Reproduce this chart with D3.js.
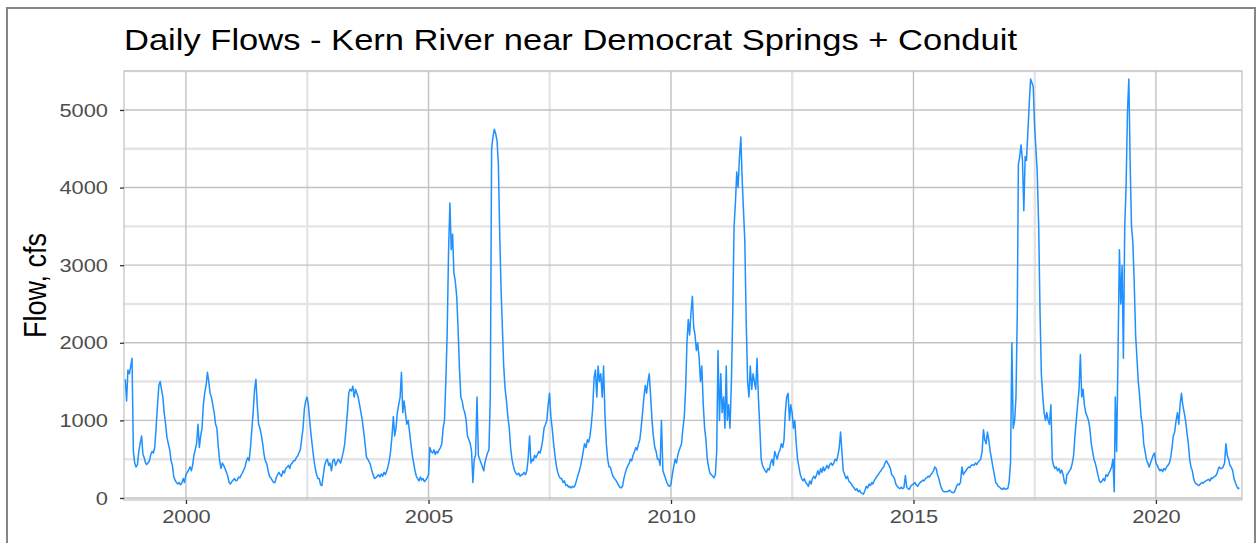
<!DOCTYPE html>
<html>
<head>
<meta charset="utf-8">
<script src="https://cdn.jsdelivr.net/npm/d3@7"></script>
<style>
  html, body { margin: 0; padding: 0; background: #ffffff; }
  svg { display: block; }
  text { font-family: "Liberation Sans", Arial, sans-serif; }
</style>
</head>
<body>
<svg id="chart" width="1257" height="543"></svg>
<script>
// Dekad (1st, 11th, 21st of each month) flows in cfs, one array per water year (Oct 1 - Sep 30)
const wy1999 = [1530,1250,1650,1600,1700,1800,600,450,400,430,600,700,800,560,520,460,430,450,480,560,600,580,650,900,1200,1450,1500,1400,1300,1100,950,780,700,620,480,420];
const wy2000 = [280,230,200,180,200,170,190,250,200,300,330,360,400,350,430,550,620,700,950,650,800,900,1200,1350,1450,1620,1500,1350,1300,1200,1100,950,900,650,480,380];
const wy2001 = [450,420,380,330,280,200,180,210,230,250,220,230,270,260,300,320,360,400,480,520,480,650,880,1100,1400,1530,1200,950,900,820,700,560,480,440,350,280];
const wy2002 = [260,230,200,200,260,300,330,300,280,350,320,380,400,420,380,430,450,480,480,520,540,580,620,750,900,1150,1250,1300,1200,1000,800,650,500,380,300,250];
const wy2003 = [250,170,160,300,420,480,500,420,450,350,480,500,420,460,500,480,450,520,600,700,900,1100,1350,1400,1380,1440,1300,1400,1350,1300,1200,1100,1000,850,700,530];
const wy2004 = [500,470,430,350,300,250,260,280,300,270,310,280,330,300,350,400,480,600,800,1050,800,900,1100,1200,1300,1620,1100,1250,1100,950,1000,850,700,550,450,350];
const wy2005 = [280,250,220,270,230,250,210,230,260,300,650,600,580,620,560,600,580,620,650,700,900,1000,1500,2100,3200,3800,3200,3400,2900,2800,2600,2200,1700,1300,1250,1150];
const wy2006 = [1100,1000,800,750,700,600,200,500,550,1300,550,500,450,400,350,450,520,580,620,1300,4500,4650,4750,4700,4600,4300,3400,2700,2200,1700,1400,1250,1050,900,650,500];
const wy2007 = [420,350,320,300,320,280,300,300,330,300,350,500,800,450,500,480,550,520,560,600,580,650,750,900,950,1000,1200,1350,1050,900,700,550,420,330,280,250];
const wy2008 = [250,200,220,160,170,140,150,130,150,140,170,230,300,350,420,500,600,700,650,750,720,800,950,1150,1550,1650,1300,1700,1500,1600,1300,1700,1100,700,500,400];
const wy2009 = [400,330,280,250,230,200,170,140,130,150,250,320,380,420,450,500,480,550,600,650,620,700,750,900,1100,1300,1450,1350,1500,1600,1300,1000,800,650,600,500];
const wy2010 = [500,420,1000,350,300,250,200,160,150,180,300,400,500,450,550,600,650,700,900,1050,1400,2000,2300,2100,2400,2600,2200,2100,1900,2000,1800,1500,1700,1200,900,750];
const wy2011 = [500,400,320,300,280,260,300,600,1900,1000,1600,1100,1300,900,1700,1000,1200,900,1500,2400,3500,3800,4200,4000,4400,4650,4100,3700,3300,2300,1500,1300,1700,1400,1600,1500];
const wy2012 = [1400,1800,1300,900,500,420,380,350,330,380,360,450,500,420,600,550,500,580,620,700,650,750,1100,1300,1350,1000,1200,1100,900,1000,700,500,400,300,250,220];
const wy2013 = [250,200,180,150,220,180,250,280,250,300,350,300,380,330,400,350,380,420,380,430,450,420,450,500,480,550,650,850,600,350,300,250,280,220,200,180];
const wy2014 = [150,130,100,120,80,100,70,60,50,100,150,130,180,160,200,180,220,250,280,300,330,350,380,400,450,480,450,420,380,300,280,250,180,150,130,120];
const wy2015 = [140,120,130,290,140,120,110,150,170,180,200,170,150,180,200,210,230,220,250,260,280,270,300,320,350,400,380,300,250,180,120,90,80,80,80,90];
const wy2016 = [100,80,70,70,100,150,180,170,200,400,300,330,350,380,400,390,420,430,420,450,430,460,480,500,600,880,750,700,850,750,600,500,400,300,200,180];
const wy2017 = [150,140,120,110,130,110,120,120,200,450,2000,900,1000,1300,2400,4300,4400,4550,4350,3700,4400,4350,4700,5050,5400,5350,5300,4800,4500,4200,3500,2400,1600,1300,1100,1000];
const wy2018 = [1100,1000,950,1200,500,420,380,400,350,380,320,360,300,200,180,300,320,350,380,450,550,800,1000,1200,1400,1850,1300,1400,1200,1100,1050,1000,900,700,600,500];
const wy2019 = [450,380,300,220,200,220,250,220,300,280,320,350,400,500,80,1300,600,1800,3200,2500,3000,1800,3500,4000,5000,5400,4300,3500,3300,2800,2100,1800,1500,1300,1050,950];
const wy2020 = [700,600,500,450,400,450,500,550,580,450,420,380,350,370,340,380,360,400,420,450,520,650,800,850,1000,1100,950,1200,1350,1200,1100,1000,850,700,500,400];
const wy2021 = [350,250,200,180,170,160,180,200,190,210,220,230,240,220,260,250,270,280,300,350,400,380,380,400,450,700,550,500,420,400,350,250,200,150,120,130];

const waterYears = [1999,2000,2001,2002,2003,2004,2005,2006,2007,2008,2009,2010,2011,2012,2013,2014,2015,2016,2017,2018,2019,2020,2021];
const yearlyFlows = [wy1999,wy2000,wy2001,wy2002,wy2003,wy2004,wy2005,wy2006,wy2007,wy2008,wy2009,wy2010,wy2011,wy2012,wy2013,wy2014,wy2015,wy2016,wy2017,wy2018,wy2019,wy2020,wy2021];

// Axis breaks
const yBreaks = [0, 1000, 2000, 3000, 4000, 5000];
const yMinorBreaks = [500, 1500, 2500, 3500, 4500, 5500];
const xBreakYears = [2000, 2005, 2010, 2015, 2020];
const xMinorBreakYears = [2002.5, 2007.5, 2012.5, 2017.5];

const titleText = "Daily Flows - Kern River near Democrat Springs + Conduit";
const yAxisTitle = "Flow, cfs";

// Build dated records: dekads start on the 1st, 11th and 21st of each month from October
const records = [];
waterYears.forEach((wy, k) => {
  yearlyFlows[k].forEach((v, i) => {
    const monthOffset = Math.floor(i / 3);
    const day = [1, 11, 21][i % 3];
    const date = new Date(wy - 1, 9 + monthOffset, day);
    records.push({ date, flow: v });
  });
});

const panel = { left: 124, right: 1242, top: 71, bottom: 500 };
const textStretch = 1.15;   // text is drawn slightly wide

const svg = d3.select("#chart");

// Outer frame
svg.append("rect")
  .attr("x", 7).attr("y", 8)
  .attr("width", 1248).attr("height", 545)
  .attr("fill", "#ffffff")
  .attr("stroke", "#858585")
  .attr("stroke-width", 2);

const decYear = v => {
  const yr = Math.floor(v);
  const start = new Date(yr, 0, 1), end = new Date(yr + 1, 0, 1);
  return new Date(+start + (v - yr) * (end - start));
};

const x = d3.scaleTime()
  .domain([decYear(1998.722), decYear(2021.773)])
  .range([panel.left, panel.right]);

const y = d3.scaleLinear()
  .domain([-26, 5502])
  .range([panel.bottom, panel.top]);

const g = svg.append("g");

// Minor grid (lighter, wider)
g.selectAll("line.ymin").data(yMinorBreaks.filter(v => v <= y.domain()[1])).join("line")
  .attr("x1", panel.left).attr("x2", panel.right)
  .attr("y1", d => y(d)).attr("y2", d => y(d))
  .attr("stroke", "#e5e5e5").attr("stroke-width", 2.4);
g.selectAll("line.xmin").data(xMinorBreakYears).join("line")
  .attr("y1", panel.top).attr("y2", panel.bottom)
  .attr("x1", d => x(decYear(d))).attr("x2", d => x(decYear(d)))
  .attr("stroke", "#e5e5e5").attr("stroke-width", 2.4);

// Major grid
g.selectAll("line.ymaj").data(yBreaks).join("line")
  .attr("x1", panel.left).attr("x2", panel.right)
  .attr("y1", d => y(d)).attr("y2", d => y(d))
  .attr("stroke", "#c2c2c2").attr("stroke-width", 1.4);
g.selectAll("line.xmaj").data(xBreakYears).join("line")
  .attr("y1", panel.top).attr("y2", panel.bottom)
  .attr("x1", d => x(new Date(d, 0, 1))).attr("x2", d => x(new Date(d, 0, 1)))
  .attr("stroke", "#c2c2c2").attr("stroke-width", 1.4);

// Flow line
const line = d3.line()
  .x(d => x(d.date))
  .y(d => y(d.flow));

g.append("path")
  .datum(records)
  .attr("fill", "none")
  .attr("stroke", "#1E90FF")
  .attr("stroke-width", 1.5)
  .attr("stroke-linejoin", "round")
  .attr("d", line);

// Panel border
g.append("rect")
  .attr("x", panel.left).attr("y", panel.top)
  .attr("width", panel.right - panel.left).attr("height", panel.bottom - panel.top)
  .attr("fill", "none").attr("stroke", "#c2c2c2").attr("stroke-width", 1.2);

// Axes
const yAxis = d3.axisLeft(y).tickValues(yBreaks).tickSize(4).tickPadding(7).tickFormat(d3.format("d"));
const yAxisG = svg.append("g").attr("transform", `translate(${panel.left},0)`).call(yAxis);
const xAxis = d3.axisBottom(x).tickValues(xBreakYears.map(v => new Date(v, 0, 1))).tickSize(4).tickPadding(6).tickFormat(d3.timeFormat("%Y"));
const xAxisG = svg.append("g").attr("transform", `translate(0,${panel.bottom})`).call(xAxis);

[yAxisG, xAxisG].forEach(a => {
  a.select(".domain").remove();
  a.selectAll(".tick line").attr("stroke", "#333333").attr("stroke-width", 1.3);
  a.selectAll(".tick text")
    .attr("fill", "#4d4d4d")
    .style("font-family", '"Liberation Sans", Arial, sans-serif')
    .style("font-size", "19px");
});
yAxisG.selectAll(".tick text")
  .attr("x", -16 / textStretch)
  .attr("transform", `scale(${textStretch},1)`);
xAxisG.selectAll(".tick text")
  .attr("transform", `scale(${textStretch},1)`);

// Title
svg.append("text")
  .attr("x", panel.left)
  .attr("y", 50)
  .attr("fill", "#000000")
  .style("font-size", "30px")
  .attr("textLength", 893)
  .attr("lengthAdjust", "spacingAndGlyphs")
  .text(titleText);

// Y axis title
svg.append("text")
  .attr("transform", `translate(46,${(panel.top + panel.bottom) / 2}) scale(${textStretch},1) rotate(-90)`)
  .attr("text-anchor", "middle")
  .attr("fill", "#000000")
  .style("font-size", "27px")
  .text(yAxisTitle);
</script>
</body>
</html>
